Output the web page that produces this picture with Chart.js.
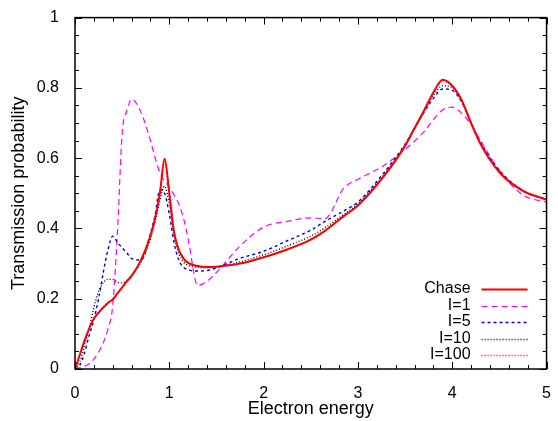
<!DOCTYPE html>
<html>
<head>
<meta charset="utf-8">
<script src="https://cdn.jsdelivr.net/npm/chart.js@4/dist/chart.umd.min.js"></script>
<style>
  html, body { margin: 0; padding: 0; background: #fff; }
  #wrap { width: 558px; height: 421px; }
</style>
</head>
<body>
<div id="wrap"><canvas id="transChart" width="558" height="421"></canvas></div>
<script>
// energia (eje x) compartida por todas las curvas
const energy = [0, 0.05, 0.1, 0.15, 0.2, 0.25, 0.3, 0.35, 0.4, 0.45, 0.5, 0.55, 0.6, 0.7, 0.8, 0.85, 0.9, 0.95,
  1.0, 1.05, 1.1, 1.15, 1.2, 1.3, 1.4, 1.5, 1.75, 2.0, 2.25, 2.5, 2.65, 2.85, 3.0, 3.25, 3.5, 3.6, 3.7, 3.8,
  3.9, 4.0, 4.1, 4.2, 4.3, 4.5, 4.75, 5.0];

const chase = [0, 0.04, 0.08, 0.115, 0.143, 0.16, 0.175, 0.188, 0.198, 0.215, 0.232, 0.25, 0.265, 0.31, 0.38, 0.43, 0.50, 0.598,
  0.50, 0.39, 0.34, 0.315, 0.302, 0.293, 0.29, 0.291, 0.30, 0.318, 0.34, 0.368, 0.393, 0.435, 0.465, 0.54, 0.635, 0.685, 0.735, 0.787,
  0.823, 0.806, 0.765, 0.70, 0.64, 0.56, 0.507, 0.482];

const i1 = [0, 0.003, 0.008, 0.015, 0.028, 0.048, 0.075, 0.115, 0.18, 0.39, 0.67, 0.735, 0.768, 0.73, 0.65, 0.60, 0.56, 0.535,
  0.518, 0.495, 0.47, 0.43, 0.37, 0.238, 0.25, 0.275, 0.35, 0.404, 0.42, 0.43, 0.428, 0.515, 0.54, 0.575, 0.625, 0.648, 0.675, 0.71,
  0.738, 0.745, 0.728, 0.695, 0.65, 0.565, 0.495, 0.475];

const i5 = [0, 0.01, 0.045, 0.095, 0.14, 0.2, 0.275, 0.34, 0.378, 0.36, 0.345, 0.33, 0.315, 0.31, 0.385, 0.44, 0.51, 0.50,
  0.44, 0.36, 0.31, 0.29, 0.282, 0.279, 0.28, 0.288, 0.315, 0.335, 0.365, 0.395, 0.42, 0.45, 0.475, 0.55, 0.64, 0.685, 0.73, 0.77,
  0.797, 0.793, 0.76, 0.70, 0.645, 0.565, 0.508, 0.482];

const i10 = [0, 0.02, 0.065, 0.115, 0.175, 0.22, 0.245, 0.255, 0.255, 0.247, 0.245, 0.252, 0.265, 0.305, 0.37, 0.42, 0.48, 0.52,
  0.47, 0.38, 0.33, 0.305, 0.295, 0.289, 0.288, 0.29, 0.305, 0.325, 0.35, 0.378, 0.402, 0.44, 0.47, 0.545, 0.637, 0.685, 0.733, 0.778,
  0.806, 0.80, 0.763, 0.70, 0.642, 0.562, 0.507, 0.482];

const i100 = [0, 0.038, 0.078, 0.114, 0.143, 0.162, 0.177, 0.19, 0.2, 0.216, 0.233, 0.25, 0.265, 0.31, 0.378, 0.428, 0.50, 0.59,
  0.50, 0.39, 0.34, 0.315, 0.302, 0.293, 0.29, 0.291, 0.30, 0.318, 0.341, 0.369, 0.394, 0.436, 0.466, 0.54, 0.635, 0.685, 0.735, 0.786,
  0.82, 0.805, 0.765, 0.70, 0.64, 0.56, 0.507, 0.482];

const xTicks = [0, 1, 2, 3, 4, 5];
const yTicks = [0, 0.2, 0.4, 0.6, 0.8, 1];

const FONT = "'Liberation Sans', Arial, sans-serif";
const pts = arr => arr.map((v, i) => ({ x: energy[i], y: v }));

// ticks hacia adentro en los cuatro lados + marco
const frameTicks = {
  id: 'frameTicks',
  afterDraw(chart) {
    const { ctx, chartArea: a, scales: { x, y } } = chart;
    ctx.save();
    ctx.strokeStyle = '#000';
    ctx.lineWidth = 1;
    ctx.beginPath();
    for (let i = 0; i <= 25; i++) {
      const px = Math.round(x.getPixelForValue(i * 0.2)) + 0.5;
      const len = i % 5 === 0 ? 7 : 4;
      ctx.moveTo(px, a.bottom); ctx.lineTo(px, a.bottom - len);
      ctx.moveTo(px, a.top); ctx.lineTo(px, a.top + len);
    }
    for (let i = 0; i <= 20; i++) {
      const py = Math.round(y.getPixelForValue(i * 0.05)) + 0.5;
      const len = i % 4 === 0 ? 7 : 4;
      ctx.moveTo(a.left, py); ctx.lineTo(a.left + len, py);
      ctx.moveTo(a.right, py); ctx.lineTo(a.right - len, py);
    }
    ctx.stroke();
    ctx.lineWidth = 1.5;
    ctx.strokeRect(a.left, a.top, a.width, a.height);
    ctx.restore();
  }
};

// leyenda dentro del área, abajo a la derecha
const insideLegend = {
  id: 'insideLegend',
  afterDraw(chart) {
    const { ctx, chartArea: a } = chart;
    const textRight = a.right - 76;
    const lineStart = a.right - 65, lineEnd = a.right - 19;
    ctx.save();
    ctx.font = '16px ' + FONT;
    ctx.textAlign = 'right';
    ctx.textBaseline = 'middle';
    chart.data.datasets.forEach((ds, i) => {
      const yy = a.bottom - 80 + i * 16.5;
      ctx.fillStyle = '#000';
      ctx.fillText(ds.label, textRight, yy);
      ctx.strokeStyle = ds.borderColor;
      ctx.lineWidth = ds.borderWidth;
      ctx.setLineDash(ds.borderDash || []);
      ctx.beginPath();
      ctx.moveTo(lineStart, Math.round(yy) + 0.5);
      ctx.lineTo(lineEnd, Math.round(yy) + 0.5);
      ctx.stroke();
    });
    ctx.restore();
  }
};

const ctx = document.getElementById('transChart').getContext('2d');
const transChart = new Chart(ctx, {
  type: 'line',
  data: {
    datasets: [
      { label: 'Chase', data: pts(chase), borderColor: '#ff0000', borderWidth: 2, order: 0 },
      { label: 'I=1', data: pts(i1), borderColor: '#ff00ff', borderWidth: 1.2, borderDash: [6, 4], order: 5 },
      { label: 'I=5', data: pts(i5), borderColor: '#0000ff', borderWidth: 1.4, borderDash: [3, 3], order: 4 },
      { label: 'I=10', data: pts(i10), borderColor: '#000000', borderWidth: 1.4, borderDash: [1, 2], order: 3 },
      { label: 'I=100', data: pts(i100), borderColor: '#ff0000', borderWidth: 1.5, borderDash: [1, 2], order: 1 }
    ]
  },
  options: {
    responsive: false,
    animation: false,
    layout: { padding: { left: 0, right: 6, top: 17, bottom: 0 } },
    elements: {
      point: { radius: 0 },
      line: { cubicInterpolationMode: 'monotone', fill: false }
    },
    plugins: { legend: { display: false }, tooltip: { enabled: false } },
    scales: {
      x: {
        type: 'linear', min: 0, max: 5,
        afterBuildTicks: s => { s.ticks = xTicks.map(v => ({ value: v })); },
        afterFit: s => { s.height = 52; },
        grid: { display: false },
        border: { display: false },
        ticks: { color: '#000', font: { family: FONT, size: 16 }, padding: 7, maxRotation: 0, callback: v => String(v) },
        title: { display: true, text: 'Electron energy', color: '#000', font: { family: FONT, size: 18 }, padding: { top: 0, bottom: 1 } }
      },
      y: {
        min: 0, max: 1,
        afterBuildTicks: s => { s.ticks = yTicks.map(v => ({ value: v })); },
        afterFit: s => { s.width = 75; },
        grid: { display: false },
        border: { display: false },
        ticks: { color: '#000', font: { family: FONT, size: 16 }, padding: 8, callback: v => String(v) },
        title: { display: true, text: 'Transmission probability', color: '#000', font: { family: FONT, size: 18 }, padding: { top: 8, bottom: 0 } }
      }
    }
  },
  plugins: [frameTicks, insideLegend]
});
</script>
</body>
</html>
